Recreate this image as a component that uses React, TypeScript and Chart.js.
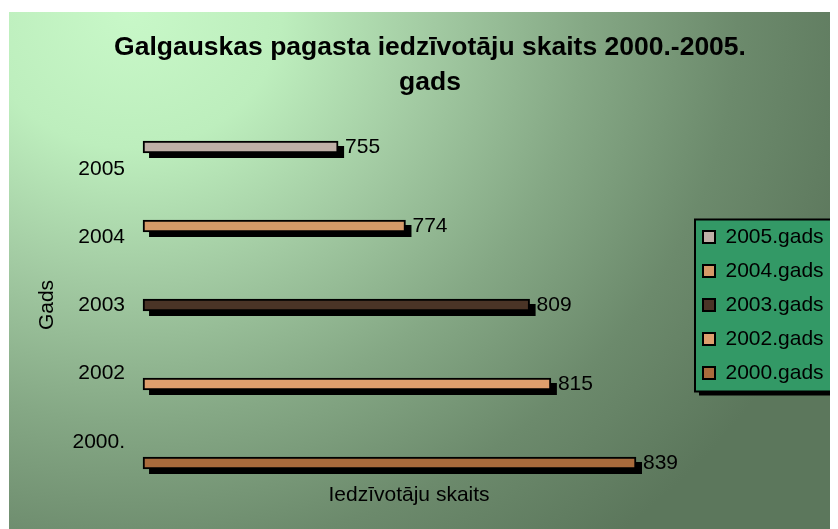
import React, { useEffect, useRef } from 'react';
import { Chart, registerables } from 'chart.js';

Chart.register(...registerables);

const categories = ['2005', '2004', '2003', '2002', '2000.'];
const seriesNames = ['2005.gads', '2004.gads', '2003.gads', '2002.gads', '2000.gads'];
const values = [755, 774, 809, 815, 839];
const barColors = ['#bfb0a7', '#d59a68', '#4a3426', '#de9f6d', '#a96b3c'];
const titleLines = ['Galgauskas pagasta iedzīvotāju skaits 2000.-2005.', 'gads'];
const xAxisTitle = 'Iedzīvotāju skaits';
const yAxisTitle = 'Gads';
const xMin = 700;
const xMax = 850;

const FONT = '"Liberation Sans", Arial, sans-serif';

const backgroundPlugin = {
  id: 'bgAndLegendFrame',
  beforeDraw(chart: any) {
    const { ctx, width, height } = chart;
    ctx.save();
    ctx.beginPath();
    ctx.rect(1, 4, width - 1, height - 4);
    ctx.clip();
    const rx = 760;
    const k = 680 / 760;
    ctx.translate(122, 4);
    ctx.scale(1, k);
    const g = ctx.createRadialGradient(0, 0, 0, 0, 0, rx);
    g.addColorStop(0, '#c8f8c8');
    g.addColorStop(0.2, '#bdeebd');
    g.addColorStop(0.4, '#a2caa2');
    g.addColorStop(0.6, '#85a885');
    g.addColorStop(0.8, '#6c8a6c');
    g.addColorStop(1, '#5c775c');
    ctx.fillStyle = g;
    ctx.fillRect(-3000, -3000, 6000, 6000);
    ctx.restore();

    const legend = chart.legend;
    if (legend && legend.legendHitBoxes && legend.legendHitBoxes.length) {
      const hb = legend.legendHitBoxes;
      const maxW = Math.max(...hb.map((h: any) => h.width));
      const left = hb[0].left - 8;
      const top = hb[0].top - 7;
      const right = hb[0].left + maxW + 10;
      const last = hb[hb.length - 1];
      const bottom = last.top + last.height + 8;
      ctx.save();
      ctx.fillStyle = '#000';
      ctx.fillRect(left + 4, top + 4, right - left, bottom - top);
      ctx.fillStyle = '#339966';
      ctx.fillRect(left, top, right - left, bottom - top);
      ctx.strokeStyle = '#000';
      ctx.lineWidth = 2;
      ctx.strokeRect(left, top, right - left, bottom - top);
      ctx.restore();
    }
  },
};

const shadowPlugin = {
  id: 'barShadows',
  beforeDatasetsDraw(chart: any) {
    const { ctx } = chart;
    ctx.save();
    ctx.fillStyle = '#000';
    chart.data.datasets.forEach((ds: any, i: number) => {
      const meta = chart.getDatasetMeta(i);
      meta.data.forEach((el: any, j: number) => {
        if (ds.data[j] == null) return;
        const { x, y, base, height } = el.getProps(['x', 'y', 'base', 'height'], true);
        ctx.fillRect(Math.min(x, base) + 6, y - height / 2 + 5, Math.abs(x - base), height);
      });
    });
    ctx.restore();
  },
  afterDatasetsDraw(chart: any) {
    const { ctx } = chart;
    ctx.save();
    ctx.fillStyle = '#000';
    ctx.font = `21px ${FONT}`;
    ctx.textBaseline = 'middle';
    ctx.textAlign = 'left';
    chart.data.datasets.forEach((ds: any, i: number) => {
      const meta = chart.getDatasetMeta(i);
      meta.data.forEach((el: any, j: number) => {
        const v = ds.data[j];
        if (v == null) return;
        const { x, y } = el.getProps(['x', 'y'], true);
        ctx.fillText(String(v), x + 7, y);
      });
    });
    ctx.restore();
  },
};

export default function App() {
  const ref = useRef<HTMLCanvasElement | null>(null);

  useEffect(() => {
    if (!ref.current) return;
    Chart.defaults.font.family = FONT;
    const datasets = seriesNames.map((name, i) => ({
      label: name,
      data: values.map((v, j) => (j === i ? v : null)),
      backgroundColor: barColors[i],
      borderColor: '#000',
      borderWidth: 2,
      borderSkipped: false,
      barThickness: 12,
      grouped: false,
      base: xMin,
      clip: false,
    }));

    const chart = new Chart(ref.current, {
      type: 'bar',
      data: { labels: categories, datasets },
      plugins: [backgroundPlugin, shadowPlugin],
      options: {
        responsive: false,
        animation: false,
        indexAxis: 'y',
        layout: { padding: { top: 0, left: 22, right: 8, bottom: 17.4 } },
        plugins: {
          title: {
            display: true,
            text: titleLines,
            color: '#000',
            font: { size: 26.5, weight: 'bold', lineHeight: 1.3, family: FONT },
            padding: { top: 22.8, bottom: 47.3 },
          },
          legend: {
            position: 'right',
            fullSize: false,
            align: 'center',
            maxWidth: 140,
            labels: {
              color: '#000',
              font: { size: 21, family: FONT },
              boxWidth: 12,
              boxHeight: 12,
              padding: 13,
            },
          },
          tooltip: { enabled: false },
        },
        scales: {
          y: {
            type: 'category',
            display: false,
            offset: false,
            grid: { display: false },
          },
          x: {
            type: 'linear',
            position: 'bottom',
            min: xMin,
            max: xMax,
            grid: { display: false, drawTicks: false },
            border: { display: false },
            ticks: { display: false },
            title: {
              display: true,
              text: xAxisTitle,
              color: '#000',
              font: { size: 21, family: FONT },
              padding: { top: 19.4, bottom: 4 },
            },
          },
          y2: {
            type: 'linear',
            axis: 'y',
            position: 'left',
            reverse: true,
            offset: false,
            min: -0.32,
            max: 4.31,
            grid: { display: false, drawTicks: false, offset: false },
            border: { display: false },
            afterBuildTicks: (scale: any) => {
              scale.ticks = categories.map((_, i) => ({ value: i }));
            },
            ticks: {
              color: '#000',
              font: { size: 21, family: FONT },
              padding: 18,
              autoSkip: false,
              callback: (v: any) => categories[v] ?? '',
            },
            title: {
              display: true,
              text: yAxisTitle,
              color: '#000',
              font: { size: 21, family: FONT },
              padding: { top: 4.4, bottom: -5.1 },
            },
          },
          yPad: {
            type: 'linear',
            axis: 'y',
            position: 'right',
            offset: false,
            grid: { display: false, drawTicks: false },
            border: { display: false },
            ticks: { display: false },
            title: {
              display: true,
              text: ' ',
              font: { size: 1, lineHeight: 1 },
              padding: { top: 0, bottom: 14 },
            },
          },
        },
      } as any,
    });
    return () => chart.destroy();
  }, []);

  return (
    <div>
      <canvas ref={ref} width={830} height={521} style={{ display: 'block', width: 830, height: 521 }} />
    </div>
  );
}
